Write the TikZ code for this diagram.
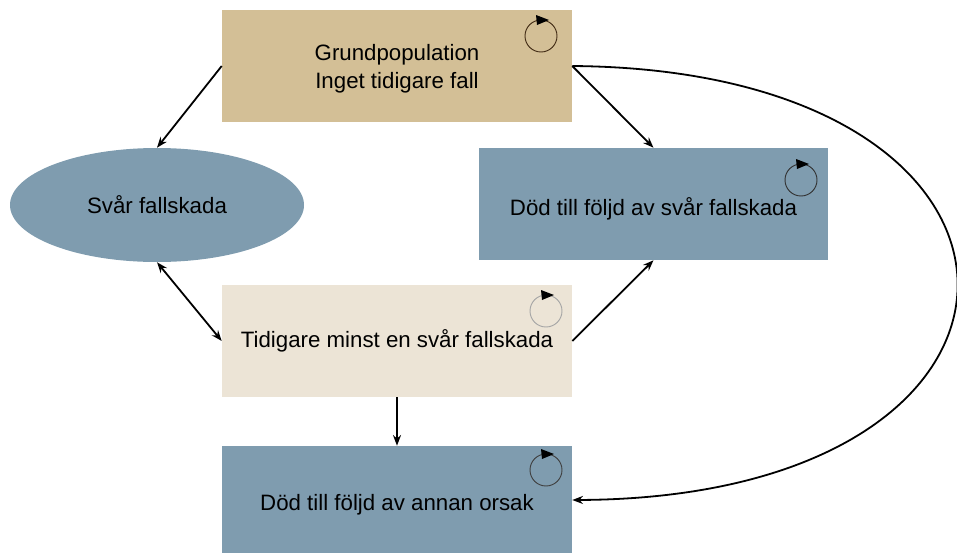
\documentclass[tikz,border=0pt]{standalone}
\usepackage{fontspec}
\setmainfont{Liberation Sans}
\usetikzlibrary{arrows.meta,shapes.geometric}
\definecolor{tan}{HTML}{D3BF96}
\definecolor{steel}{HTML}{7F9CAF}
\definecolor{beige}{HTML}{ECE4D6}
\newcommand{\dropby}[2]{\raisebox{-#1}[\height][\depth]{#2}}
\begin{document}
\begin{tikzpicture}[x=0.75pt,y=-0.75pt,
  box/.style={rectangle,minimum width=262.5pt,minimum height=84pt,inner sep=0pt,align=center,
    font=\fontsize{16.7}{21}\selectfont},
  conn/.style={line width=1.35pt,-{Stealth[length=8pt,width=6pt]}},
  loopicon/.pic={
    \draw[line width=0.7pt,#1] (0,0) circle[radius=12pt];
    \fill[black] (-5,-21) -- (-4,-11) -- (8,-16) -- cycle;
  }]
\useasboundingbox (0,0) rectangle (957,553);
\node[box,fill=tan] (grund) at (397,66) {\dropby{2.3pt}{\begin{tabular}{@{}c@{}}Grundpopulation\\Inget tidigare fall\end{tabular}}};
\node[box,fill=steel,minimum width=261.75pt] (dodsvar) at (653.5,204) {\dropby{3.8pt}{Död till följd av svår fallskada}};
\node[box,fill=beige] (tidig) at (397,341) {Tidigare minst en svår fallskada};
\node[box,fill=steel,minimum height=81pt] (annan) at (397,500) {\dropby{3.5pt}{Död till följd av annan orsak}};
\node[ellipse,fill=steel,minimum width=220.5pt,minimum height=85.5pt,inner sep=0pt,
  font=\fontsize{16.7}{21}\selectfont] (svar) at (157,205) {Svår fallskada};
\pic at (541,36) {loopicon={black!65!brown}};
\pic at (801,180) {loopicon={black!80}};
\pic at (546,311) {loopicon={black!35}};
\pic at (546,470) {loopicon={black!75}};
\draw[conn] (grund.west) -- (svar.north);
\draw[conn] (grund.east) -- (dodsvar.north);
\draw[conn,{Stealth[length=8pt,width=6pt]}-{Stealth[length=8pt,width=6pt]}] (svar.south) -- (tidig.west);
\draw[conn] (tidig.east) -- (dodsvar.south);
\draw[conn] (tidig.south) -- (annan.north);
\draw[conn] (grund.east) .. controls (1085,70) and (1085,498) .. (annan.east);
\end{tikzpicture}
\end{document}
